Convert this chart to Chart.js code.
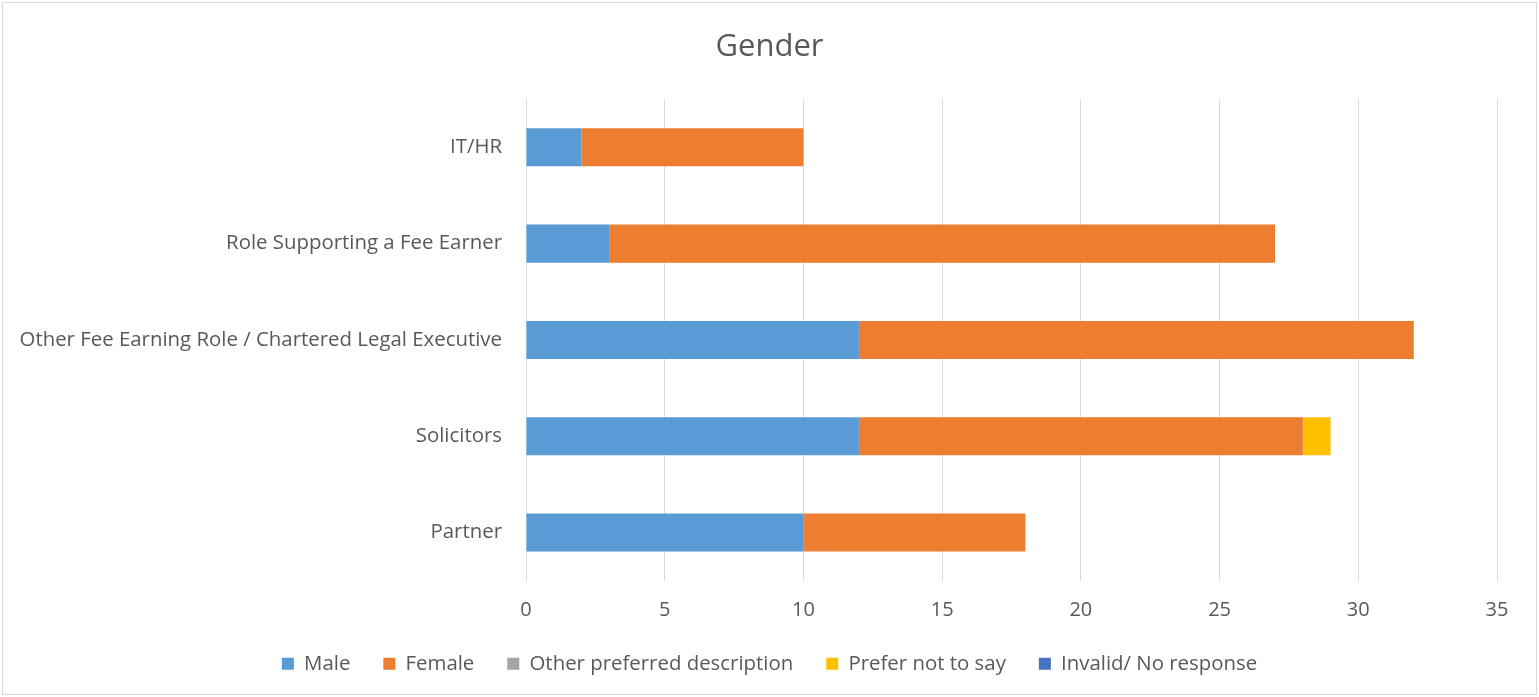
<!DOCTYPE html>
<html>
<head>
<meta charset="utf-8">
<title>Gender</title>
<script src="https://cdn.jsdelivr.net/npm/chart.js@4"></script>
<style>
    html, body { margin: 0; padding: 0; background: #ffffff; }
    #wrap { position: relative; width: 1539px; height: 697px; }
</style>
</head>
<body>
<div id="wrap"><canvas id="genderChart" width="1539" height="697"></canvas></div>
<script>
// Chart data
const categories = [
    'IT/HR',
    'Role Supporting a Fee Earner',
    'Other Fee Earning Role / Chartered Legal Executive',
    'Solicitors',
    'Partner'
];
const maleValues = [2, 3, 12, 12, 10];
const femaleValues = [8, 24, 20, 16, 8];
const otherValues = [0, 0, 0, 0, 0];
const preferNotValues = [0, 0, 0, 1, 0];
const invalidValues = [0, 0, 0, 0, 0];
const xMin = 0;
const xMax = 35;
const xStep = 5;

const textColor = '#595959';
const gridColor = '#d9d9d9';
const fontFamily = '"Open Sans", "Noto Sans", sans-serif';

// Light frame around the whole chart
const framePlugin = {
    id: 'frame',
    afterDraw(chart) {
        const ctx = chart.ctx;
        ctx.save();
        ctx.strokeStyle = gridColor;
        ctx.lineWidth = 1;
        ctx.strokeRect(2.5, 2.5, chart.width - 5, chart.height - 5);
        ctx.restore();
    }
};

const ctx = document.getElementById('genderChart');

new Chart(ctx, {
    type: 'bar',
    data: {
        labels: categories,
        datasets: [
            { label: 'Male', data: maleValues, backgroundColor: '#5b9bd5' },
            { label: 'Female', data: femaleValues, backgroundColor: '#ed7d31' },
            { label: 'Other preferred description', data: otherValues, backgroundColor: '#a5a5a5' },
            { label: 'Prefer not to say', data: preferNotValues, backgroundColor: '#ffc000' },
            { label: 'Invalid/ No response', data: invalidValues, backgroundColor: '#4472c4' }
        ]
    },
    options: {
        indexAxis: 'y',
        responsive: false,
        animation: false,
        datasets: {
            bar: {
                categoryPercentage: 1,
                barPercentage: 0.395,
                borderWidth: 0
            }
        },
        layout: {
            padding: { top: 0, left: 0, right: 0, bottom: 13 }
        },
        scales: {
            x: {
                stacked: true,
                min: xMin,
                max: xMax,
                ticks: {
                    stepSize: xStep,
                    color: textColor,
                    padding: 18,
                    font: { family: fontFamily, size: 20 }
                },
                grid: {
                    color: gridColor,
                    lineWidth: 1,
                    drawTicks: false
                },
                border: { display: false },
                afterFit(scale) {
                    scale.height = 40;
                    scale.paddingRight = 42;
                }
            },
            y: {
                stacked: true,
                ticks: {
                    color: textColor,
                    padding: 24,
                    font: { family: fontFamily, size: 20.4 }
                },
                grid: { display: false, drawTicks: false },
                border: { display: false },
                afterFit(scale) {
                    scale.width = 526;
                }
            }
        },
        plugins: {
            title: {
                display: true,
                text: 'Gender',
                color: textColor,
                font: { family: fontFamily, size: 31, weight: 'normal' },
                padding: { top: 29, bottom: 33 }
            },
            legend: {
                position: 'bottom',
                labels: {
                    color: textColor,
                    boxWidth: 12,
                    boxHeight: 12,
                    padding: 33,
                    font: { family: fontFamily, size: 20.4 }
                }
            },
            tooltip: { enabled: false }
        }
    },
    plugins: [framePlugin]
});
</script>
</body>
</html>
